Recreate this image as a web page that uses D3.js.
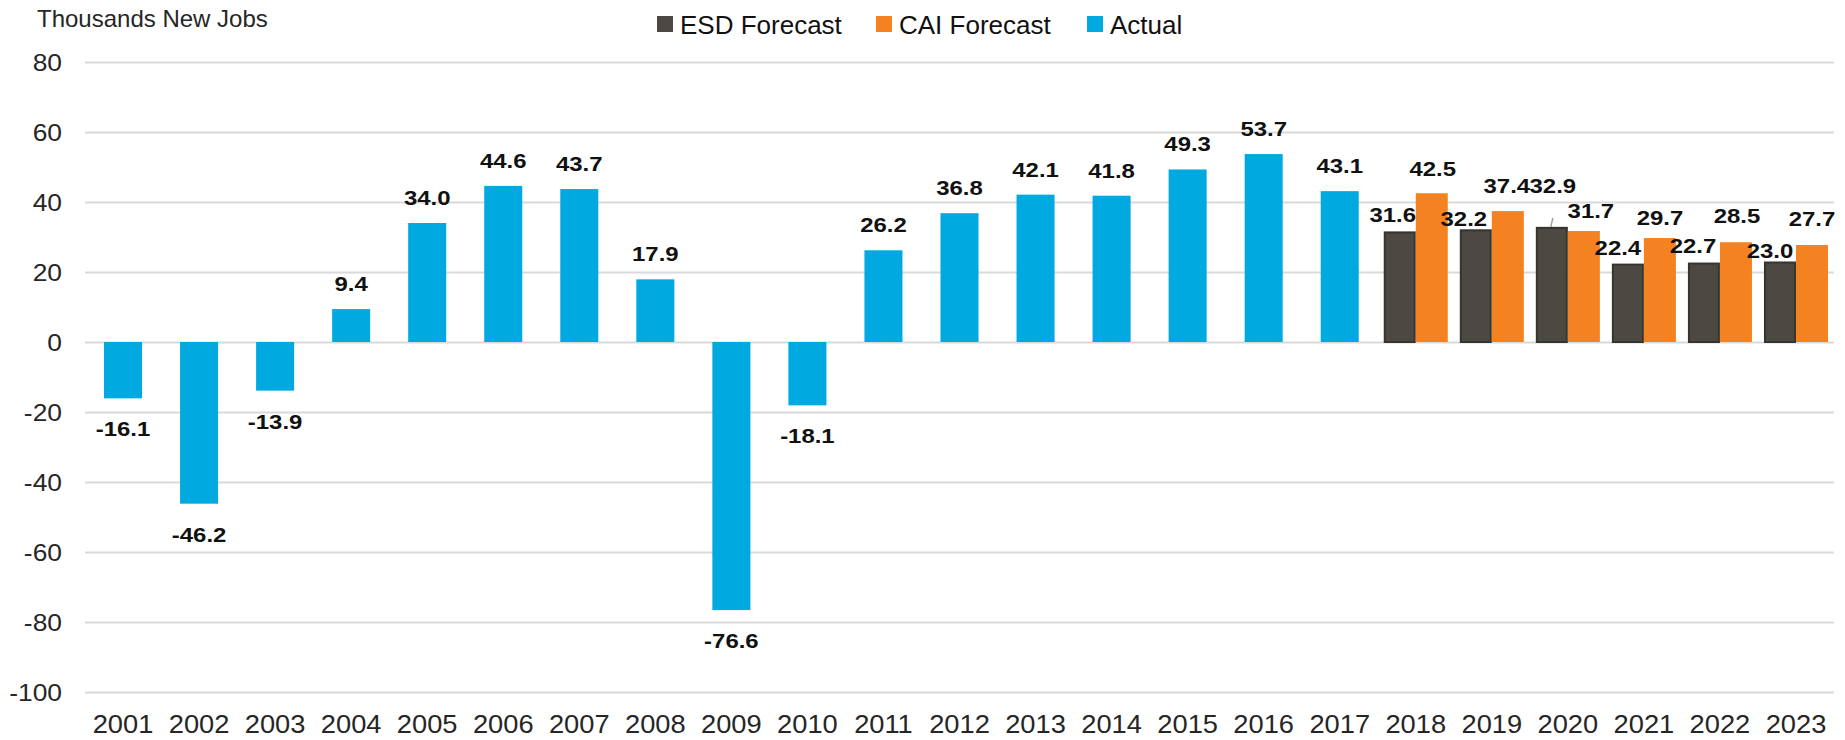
<!DOCTYPE html>
<html>
<head>
<meta charset="utf-8">
<script src="https://cdn.jsdelivr.net/npm/d3@7"></script>
<style>
  html, body { margin: 0; padding: 0; background: #ffffff; }
  svg { display: block; }
  text { font-family: "Liberation Sans", Arial, sans-serif; }
</style>
</head>
<body>
<svg id="chart" width="1845" height="740"></svg>
<script>
// ---------- data ----------
const years = ["2001","2002","2003","2004","2005","2006","2007","2008","2009","2010","2011","2012",
               "2013","2014","2015","2016","2017","2018","2019","2020","2021","2022","2023"];
const actualYears = years.slice(0, 17);
const actualValues = [-16.1, -46.2, -13.9, 9.4, 34.0, 44.6, 43.7, 17.9, -76.6, -18.1, 26.2, 36.8,
                      42.1, 41.8, 49.3, 53.7, 43.1];
const forecastYears = ["2018","2019","2020","2021","2022","2023"];
const esdValues = [31.6, 32.2, 32.9, 22.4, 22.7, 23.0];
const caiValues = [42.5, 37.4, 31.7, 29.7, 28.5, 27.7];
const yTicks = [-100, -80, -60, -40, -20, 0, 20, 40, 60, 80];
const seriesNames = ["ESD Forecast", "CAI Forecast", "Actual"];
const titleText = "Thousands New Jobs";

// label nudges for the crowded forecast labels (dx, dy from bar top)
const esdLabelNudge = [[-7, -9], [-12, -3], [1, -34], [-10, -9], [-11, -10], [-10, -4]];
const caiLabelNudge = [[1, -17], [-1, -18], [7, -13], [0, -13], [1, -19], [0, -19]];

// ---------- layout ----------
const colors = { esd: "#4b4942", esdStroke: "#36342e", cai: "#f58220", actual: "#00a9df" };
const plotLeft = 85, plotRight = 1834, plotTop = 62, plotBottom = 692;

const svg = d3.select("#chart");

const x = d3.scaleBand().domain(years).range([plotLeft, plotRight]).padding(0);
const y = d3.scaleLinear().domain([-100, 80]).range([plotBottom, plotTop]);
const bw = x.bandwidth();
const inner = d3.scaleBand().domain(["esd", "cai"])
  .range([bw * 0.079, bw * 0.921]).padding(0);

function stretchText(sel, sx) {
  sel.each(function () {
    const t = d3.select(this);
    const tx = +t.attr("data-x"), ty = +t.attr("data-y");
    t.attr("transform", `translate(${tx},${ty}) scale(${sx},1)`);
  });
}

// ---------- y axis + gridlines ----------
const yAxis = d3.axisLeft(y).tickValues(yTicks).tickFormat(d => String(d))
  .tickSizeInner(-(plotRight - plotLeft)).tickSizeOuter(0).tickPadding(23);
const gy = svg.append("g").attr("transform", `translate(${plotLeft},0)`).call(yAxis);
gy.select(".domain").remove();
gy.selectAll(".tick line").attr("stroke", "#d9d9d9").attr("stroke-width", 2);
gy.selectAll(".tick text")
  .attr("x", null).attr("dy", null)
  .attr("fill", "#262626")
  .style("font-size", "24px")
  .attr("text-anchor", "end")
  .attr("transform", "translate(-23,8.5) scale(1.1,1)");

// ---------- x axis ----------
const xAxis = d3.axisBottom(x).tickSize(0).tickPadding(0);
const gx = svg.append("g").attr("transform", `translate(0,${plotBottom})`).call(xAxis);
gx.select(".domain").remove();
gx.selectAll(".tick text")
  .attr("y", null).attr("dy", null)
  .attr("fill", "#262626")
  .style("font-size", "25.5px")
  .attr("transform", "translate(0,41) scale(1.07,1)");

// ---------- actual bars ----------
const actualData = actualYears.map((yr, i) => ({ yr, v: actualValues[i] }));
svg.append("g").selectAll("rect").data(actualData).join("rect")
  .attr("x", d => x(d.yr) + bw * 0.25)
  .attr("width", bw * 0.5)
  .attr("y", d => y(Math.max(0, d.v)))
  .attr("height", d => Math.abs(y(d.v) - y(0)))
  .attr("fill", colors.actual);

svg.append("g").selectAll("text").data(actualData).join("text")
  .attr("data-x", d => x(d.yr) + bw / 2)
  .attr("data-y", d => d.v >= 0 ? y(d.v) - 18 : y(d.v) + 38)
  .attr("text-anchor", "middle")
  .style("font-size", "21px").style("font-weight", "bold")
  .attr("fill", "#111")
  .text(d => d.v.toFixed(1))
  .call(stretchText, 1.14);

// ---------- forecast bars ----------
const esdData = forecastYears.map((yr, i) => ({ yr, v: esdValues[i], n: esdLabelNudge[i] }));
const caiData = forecastYears.map((yr, i) => ({ yr, v: caiValues[i], n: caiLabelNudge[i] }));

svg.append("g").selectAll("rect").data(esdData).join("rect")
  .attr("x", d => x(d.yr) + inner("esd") + 1)
  .attr("width", inner.bandwidth() - 2)
  .attr("y", d => y(d.v) + 1)
  .attr("height", d => y(0) - y(d.v) - 1)
  .attr("fill", colors.esd)
  .attr("stroke", colors.esdStroke)
  .attr("stroke-width", 2);

svg.append("g").selectAll("rect").data(caiData).join("rect")
  .attr("x", d => x(d.yr) + inner("cai"))
  .attr("width", inner.bandwidth())
  .attr("y", d => y(d.v))
  .attr("height", d => y(0) - y(d.v))
  .attr("fill", colors.cai);

// leader line for the moved 2020 ESD label
const lead = esdData[2];
const leadX = x(lead.yr) + inner("esd") + inner.bandwidth() / 2;
svg.append("line")
  .attr("x1", leadX - 1).attr("y1", y(lead.v))
  .attr("x2", leadX + 1).attr("y2", y(lead.v) + lead.n[1] + 25)
  .attr("stroke", "#a0a0a0").attr("stroke-width", 1.5);

function forecastLabels(data, key) {
  svg.append("g").selectAll("text").data(data).join("text")
    .attr("data-x", d => x(d.yr) + inner(key) + inner.bandwidth() / 2 + d.n[0])
    .attr("data-y", d => y(d.v) + d.n[1])
    .attr("text-anchor", "middle")
    .style("font-size", "21px").style("font-weight", "bold")
    .attr("fill", "#111")
    .text(d => d.v.toFixed(1))
    .call(stretchText, 1.14);
}
forecastLabels(esdData, "esd");
forecastLabels(caiData, "cai");

// ---------- title ----------
svg.append("text")
  .attr("x", 37).attr("y", 27)
  .style("font-size", "24px")
  .attr("fill", "#262626")
  .text(titleText);

// ---------- legend ----------
const legendColors = [colors.esd, colors.cai, colors.actual];
const legendX = [657, 876, 1087];
const lg = svg.append("g");
seriesNames.forEach((name, i) => {
  lg.append("rect")
    .attr("x", legendX[i]).attr("y", 16)
    .attr("width", 16).attr("height", 16)
    .attr("fill", legendColors[i]);
  lg.append("text")
    .attr("x", legendX[i] + 23).attr("y", 34)
    .style("font-size", "26px")
    .attr("fill", "#111")
    .text(name);
});
</script>
</body>
</html>
